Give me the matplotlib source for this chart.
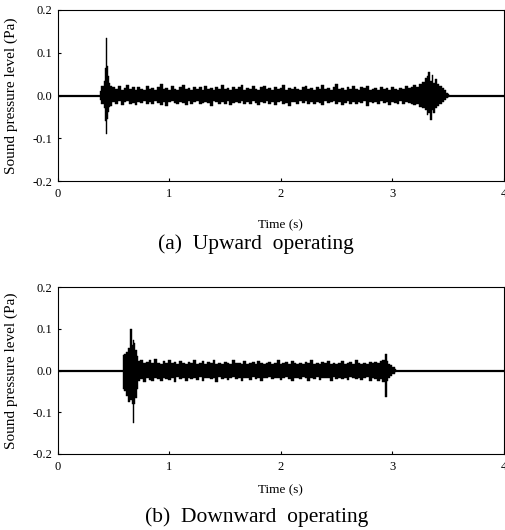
import matplotlib
matplotlib.use("Agg")
import matplotlib.pyplot as plt

plt.rcParams["font.family"] = ["Liberation Serif", "DejaVu Serif"]

# (a) upward: onset burst
up_on_t = [0.38, 0.40, 0.42, 0.43, 0.435, 0.44, 0.45, 0.46, 0.475]
up_on_hi = [0.010, 0.022, 0.035, 0.065, 0.135, 0.070, 0.045, 0.030, 0.022]
up_on_lo = [-0.010, -0.020, -0.030, -0.060, -0.090, -0.055, -0.038, -0.028, -0.025]

# (a) upward: steady running noise
up_run_t = [0.500, 0.525, 0.550, 0.575, 0.600, 0.625, 0.650, 0.675, 0.700, 0.725,
            0.750, 0.775, 0.800, 0.825, 0.850, 0.875, 0.900, 0.925, 0.950, 0.975,
            1.000, 1.025, 1.050, 1.075, 1.100, 1.125, 1.150, 1.175, 1.200, 1.225,
            1.250, 1.275, 1.300, 1.325, 1.350, 1.375, 1.400, 1.425, 1.450, 1.475,
            1.500, 1.525, 1.550, 1.575, 1.600, 1.625, 1.650, 1.675, 1.700, 1.725,
            1.750, 1.775, 1.800, 1.825, 1.850, 1.875, 1.900, 1.925, 1.950, 1.975,
            2.000, 2.025, 2.050, 2.075, 2.100, 2.125, 2.150, 2.175, 2.200, 2.225,
            2.250, 2.275, 2.300, 2.325, 2.350, 2.375, 2.400, 2.425, 2.450, 2.475,
            2.500, 2.525, 2.550, 2.575, 2.600, 2.625, 2.650, 2.675, 2.700, 2.725,
            2.750, 2.775, 2.800, 2.825, 2.850, 2.875, 2.900, 2.925, 2.950, 2.975,
            3.000, 3.025, 3.050, 3.075, 3.100, 3.125, 3.150, 3.175, 3.200, 3.225,
            3.250]
up_run_hi = [0.020, 0.016, 0.022, 0.014, 0.018, 0.024, 0.015, 0.019, 0.013, 0.021,
             0.016, 0.014, 0.023, 0.015, 0.018, 0.013, 0.020, 0.026, 0.015, 0.017,
             0.014, 0.022, 0.016, 0.013, 0.019, 0.024, 0.015, 0.017, 0.014, 0.021,
             0.016, 0.019, 0.013, 0.023, 0.015, 0.018, 0.014, 0.020, 0.016, 0.025,
             0.015, 0.017, 0.013, 0.021, 0.016, 0.019, 0.024, 0.014, 0.017, 0.015,
             0.022, 0.016, 0.013, 0.019, 0.023, 0.015, 0.017, 0.014, 0.020, 0.016,
             0.018, 0.025, 0.014, 0.017, 0.015, 0.021, 0.016, 0.013, 0.019, 0.022,
             0.015, 0.017, 0.014, 0.020, 0.016, 0.024, 0.015, 0.018, 0.013, 0.021,
             0.026, 0.016, 0.018, 0.014, 0.020, 0.015, 0.022, 0.016, 0.013, 0.019,
             0.017, 0.023, 0.014, 0.016, 0.018, 0.013, 0.020, 0.015, 0.017, 0.014,
             0.021, 0.016, 0.013, 0.018, 0.015, 0.022, 0.017, 0.020, 0.024, 0.019,
             0.026]
up_run_lo = [-0.015, -0.019, -0.013, -0.022, -0.016, -0.014, -0.020, -0.017, -0.023, -0.015,
             -0.018, -0.013, -0.021, -0.016, -0.019, -0.014, -0.017, -0.022, -0.015, -0.024,
             -0.016, -0.013, -0.018, -0.020, -0.015, -0.017, -0.023, -0.014, -0.019, -0.016,
             -0.013, -0.021, -0.017, -0.015, -0.018, -0.024, -0.014, -0.016, -0.020, -0.015,
             -0.019, -0.013, -0.022, -0.017, -0.015, -0.018, -0.014, -0.021, -0.016, -0.019,
             -0.013, -0.017, -0.023, -0.015, -0.018, -0.014, -0.020, -0.016, -0.022, -0.015,
             -0.013, -0.019, -0.017, -0.024, -0.015, -0.016, -0.020, -0.014, -0.018, -0.013,
             -0.021, -0.016, -0.019, -0.015, -0.017, -0.023, -0.014, -0.018, -0.016, -0.013,
             -0.020, -0.015, -0.022, -0.017, -0.014, -0.019, -0.016, -0.021, -0.015, -0.018,
             -0.013, -0.024, -0.016, -0.017, -0.015, -0.020, -0.014, -0.018, -0.016, -0.022,
             -0.015, -0.017, -0.019, -0.014, -0.021, -0.016, -0.018, -0.020, -0.023, -0.019,
             -0.026]

# (a) upward: stopping burst
up_end_t = [3.275, 3.30, 3.315, 3.33, 3.345, 3.36, 3.375, 3.39, 3.41, 3.43, 3.45, 3.47, 3.49, 3.51]
up_end_hi = [0.032, 0.040, 0.045, 0.055, 0.035, 0.048, 0.030, 0.038, 0.028, 0.022, 0.018, 0.012, 0.007, 0.003]
up_end_lo = [-0.030, -0.035, -0.045, -0.040, -0.058, -0.035, -0.040, -0.030, -0.024, -0.020, -0.015, -0.010, -0.006, -0.003]

# (b) downward: onset burst
dn_on_t = [0.58, 0.60, 0.62, 0.64, 0.655, 0.665, 0.68, 0.69, 0.70, 0.71]
dn_on_hi = [0.036, 0.040, 0.045, 0.055, 0.100, 0.060, 0.072, 0.065, 0.050, 0.035]
dn_on_lo = [-0.044, -0.050, -0.060, -0.075, -0.070, -0.080, -0.125, -0.080, -0.065, -0.045]

# (b) downward: steady running noise
dn_run_t = [0.725, 0.750, 0.775, 0.800, 0.825, 0.850, 0.875, 0.900, 0.925, 0.950,
            0.975, 1.000, 1.025, 1.050, 1.075, 1.100, 1.125, 1.150, 1.175, 1.200,
            1.225, 1.250, 1.275, 1.300, 1.325, 1.350, 1.375, 1.400, 1.425, 1.450,
            1.475, 1.500, 1.525, 1.550, 1.575, 1.600, 1.625, 1.650, 1.675, 1.700,
            1.725, 1.750, 1.775, 1.800, 1.825, 1.850, 1.875, 1.900, 1.925, 1.950,
            1.975, 2.000, 2.025, 2.050, 2.075, 2.100, 2.125, 2.150, 2.175, 2.200,
            2.225, 2.250, 2.275, 2.300, 2.325, 2.350, 2.375, 2.400, 2.425, 2.450,
            2.475, 2.500, 2.525, 2.550, 2.575, 2.600, 2.625, 2.650, 2.675, 2.700,
            2.725, 2.750, 2.775, 2.800, 2.825, 2.850, 2.875, 2.900]
dn_run_hi = [0.022, 0.026, 0.018, 0.021, 0.024, 0.017, 0.028, 0.019, 0.016, 0.022,
             0.018, 0.025, 0.017, 0.020, 0.016, 0.023, 0.018, 0.015, 0.021, 0.019,
             0.026, 0.016, 0.018, 0.022, 0.015, 0.020, 0.017, 0.024, 0.016, 0.019,
             0.015, 0.021, 0.018, 0.016, 0.025, 0.017, 0.019, 0.015, 0.022, 0.016,
             0.018, 0.020, 0.015, 0.023, 0.017, 0.016, 0.019, 0.021, 0.015, 0.018,
             0.024, 0.016, 0.017, 0.020, 0.015, 0.022, 0.018, 0.016, 0.019, 0.015,
             0.021, 0.017, 0.026, 0.016, 0.018, 0.015, 0.020, 0.017, 0.023, 0.016,
             0.019, 0.015, 0.018, 0.022, 0.016, 0.017, 0.020, 0.015, 0.024, 0.018,
             0.016, 0.019, 0.015, 0.021, 0.017, 0.020, 0.018, 0.022]
dn_run_lo = [-0.024, -0.020, -0.028, -0.019, -0.022, -0.026, -0.018, -0.021, -0.025, -0.017,
             -0.020, -0.023, -0.018, -0.027, -0.016, -0.021, -0.019, -0.024, -0.017, -0.020,
             -0.018, -0.022, -0.016, -0.025, -0.019, -0.017, -0.021, -0.018, -0.028, -0.016,
             -0.020, -0.017, -0.023, -0.019, -0.016, -0.021, -0.018, -0.025, -0.017, -0.019,
             -0.022, -0.016, -0.020, -0.018, -0.024, -0.017, -0.019, -0.016, -0.021, -0.018,
             -0.017, -0.023, -0.019, -0.016, -0.020, -0.026, -0.017, -0.018, -0.021, -0.016,
             -0.019, -0.024, -0.017, -0.020, -0.016, -0.022, -0.018, -0.019, -0.017, -0.025,
             -0.016, -0.020, -0.018, -0.021, -0.017, -0.023, -0.016, -0.019, -0.020, -0.017,
             -0.022, -0.018, -0.016, -0.024, -0.019, -0.020, -0.026, -0.021]

# (b) downward: stopping burst
dn_end_t = [2.92, 2.94, 2.955, 2.97, 2.99, 3.01, 3.03]
dn_end_hi = [0.025, 0.040, 0.022, 0.016, 0.012, 0.008, 0.004]
dn_end_lo = [-0.028, -0.063, -0.025, -0.018, -0.012, -0.008, -0.004]

x_ticks = [0, 1, 2, 3, 4]
y_ticks = [-0.2, -0.1, 0.0, 0.1, 0.2]
y_ticklabels = ["-0.2", "-0.1", "0.0", "0.1", "0.2"]


def draw_panel(ax, t, hi, lo):
    ax.plot([0, 4], [0, 0], color="black", lw=1.6, zorder=2)
    ax.fill_between(t, lo, hi, step="mid", facecolor="black",
                    edgecolor="black", lw=0.3, zorder=3)
    ax.set_xlim(0, 4)
    ax.set_ylim(-0.2, 0.2)
    ax.set_xticks(x_ticks)
    ax.set_yticks(y_ticks)
    ax.set_yticklabels(y_ticklabels)
    ax.tick_params(direction="in", length=2.5, width=0.8, labelsize=9, pad=4)
    ax.tick_params(axis="x", pad=5)
    for s in ax.spines.values():
        s.set_linewidth(0.8)


fig = plt.figure(figsize=(5.06, 5.30), dpi=100)
ax_a = fig.add_axes([58 / 506, 349 / 530, 446 / 506, 171 / 530])
ax_b = fig.add_axes([58 / 506, 76 / 530, 446 / 506, 167 / 530])

draw_panel(ax_a, up_on_t + up_run_t + up_end_t,
           up_on_hi + up_run_hi + up_end_hi,
           up_on_lo + up_run_lo + up_end_lo)
draw_panel(ax_b, dn_on_t + dn_run_t + dn_end_t,
           dn_on_hi + dn_run_hi + dn_end_hi,
           dn_on_lo + dn_run_lo + dn_end_lo)

# axis titles and captions placed to match the original page layout
for yc in (96, 371):
    fig.text(11 / 506, 1 - yc / 530, "Sound pressure level (Pa)", rotation=90,
             ha="center", va="center", fontsize=11)
fig.text(280 / 506, 1 - 225 / 530, "Time (s)", ha="center", va="center", fontsize=9.5)
fig.text(280 / 506, 1 - 490 / 530, "Time (s)", ha="center", va="center", fontsize=9.5)
fig.text(256 / 506, 1 - 244 / 530, "(a)  Upward  operating", ha="center",
         va="center", fontsize=15.5)
fig.text(257 / 506, 1 - 517 / 530, "(b)  Downward  operating", ha="center",
         va="center", fontsize=15.5)

fig.savefig("out.png", dpi=100)
